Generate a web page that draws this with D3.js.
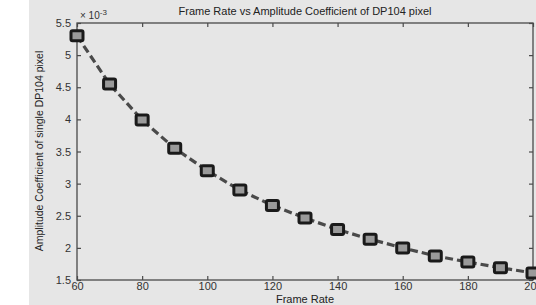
<!DOCTYPE html>
<html><head><meta charset="utf-8">
<script src="https://cdn.jsdelivr.net/npm/d3@7"></script>
<style>html,body{margin:0;padding:0;background:#fff;}svg{display:block;}</style>
</head><body>
<svg id="c" width="536" height="305"></svg>
<script>
const frameRates = [60,70,80,90,100,110,120,130,140,150,160,170,180,190,200];
const amplitude = [5.30,4.55,3.99,3.55,3.20,2.90,2.66,2.465,2.285,2.135,2.00,1.875,1.78,1.69,1.61];
const xTicks = [60,80,100,120,140,160,180,200];
const yTicks = [1.5,2,2.5,3,3.5,4,4.5,5,5.5];

const W=536,H=305;
const m={l:77,r:533,t:23,b:280};
const svg=d3.select('#c');
svg.append('rect').attr('x',29).attr('y',0).attr('width',W-29).attr('height',H).attr('fill','#e6e6e6');
const x=d3.scaleLinear().domain([60,200]).range([m.l,m.r]);
const y=d3.scaleLinear().domain([1.5,5.5]).range([m.b,m.t]);
const font='"Liberation Sans", Arial, sans-serif';
const axC='#4a4a4a';

svg.append('rect').attr('x',m.l).attr('y',m.t).attr('width',m.r-m.l).attr('height',m.b-m.t)
  .attr('fill','none').attr('stroke',axC).attr('stroke-width',1.3);

const tl=4;
const gx=svg.append('g').attr('transform',`translate(0,${m.b})`)
  .call(d3.axisBottom(x).tickValues(xTicks).tickSize(-tl).tickPadding(2).tickFormat(d3.format('d')));
const gxt=svg.append('g').attr('transform',`translate(0,${m.t})`)
  .call(d3.axisTop(x).tickValues(xTicks).tickSize(-tl).tickFormat(''));
const gy=svg.append('g').attr('transform',`translate(${m.l},0)`)
  .call(d3.axisLeft(y).tickValues(yTicks).tickSize(-tl).tickPadding(6).tickFormat(d=>String(d)));
const gyr=svg.append('g').attr('transform',`translate(${m.r},0)`)
  .call(d3.axisRight(y).tickValues(yTicks).tickSize(-tl).tickFormat(''));
[gx,gxt,gy,gyr].forEach(g=>{
  g.select('.domain').remove();
  g.selectAll('line').attr('stroke',axC).attr('stroke-width',1.2);
  g.selectAll('text').attr('fill','#333').style('font-family',font).style('font-size','11px');
});

const ex=svg.append('text').attr('x',m.l+3).attr('y',m.t-4).attr('fill','#333')
  .style('font-family',font).style('font-size','10px');
ex.append('tspan').text('× 10');
ex.append('tspan').attr('dy',-4).style('font-size','8px').text('-3');

svg.append('text').attr('x',305).attr('y',15).attr('text-anchor','middle').attr('fill','#222')
  .style('font-family',font).style('font-size','11px').text('Frame Rate vs Amplitude Coefficient of DP104 pixel');
svg.append('text').attr('x',305).attr('y',303).attr('text-anchor','middle').attr('fill','#222')
  .style('font-family',font).style('font-size','11px').text('Frame Rate');
svg.append('text').attr('transform','translate(43,151) rotate(-90)').attr('text-anchor','middle').attr('fill','#222')
  .style('font-family',font).style('font-size','10.5px').text('Amplitude Coefficient of single DP104 pixel');

const data=frameRates.map((f,i)=>({f,a:amplitude[i]}));
svg.append('path').datum(data).attr('fill','none').attr('stroke','#4a4a4a').attr('stroke-width',3.2)
  .attr('stroke-dasharray','8,4')
  .attr('d',d3.line().x(d=>x(d.f)).y(d=>y(d.a)));
svg.selectAll('rect.mk').data(data).join('rect').attr('class','mk')
  .attr('x',d=>x(d.f)-6).attr('y',d=>y(d.a)-5).attr('width',12).attr('height',10)
  .attr('rx',1.5)
  .attr('fill','#9a9a9a').attr('stroke','#1a1a1a').attr('stroke-width',3);
</script>
</body></html>
